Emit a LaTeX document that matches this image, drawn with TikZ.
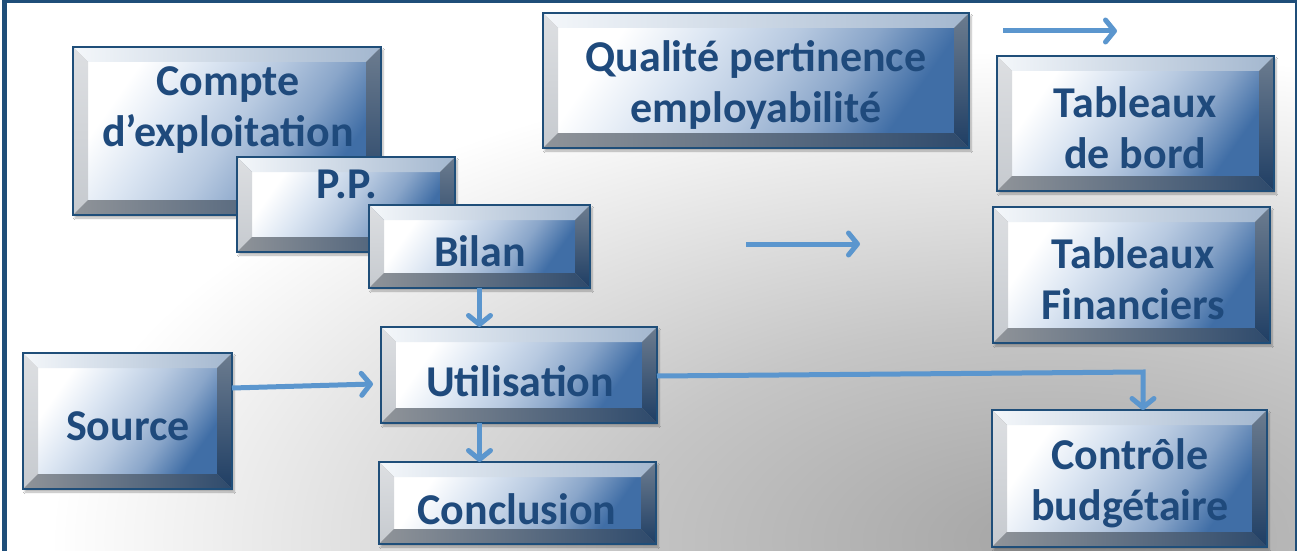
\documentclass[tikz,border=0pt]{standalone}
\usepackage{fontspec}
\setmainfont{Carlito}
\usetikzlibrary{arrows.meta,calc,fit,shadows.blur}
\definecolor{txtc}{HTML}{1F4A7C}
\definecolor{linec}{HTML}{1F4E79}
\definecolor{arrowc}{HTML}{5B96CE}
\definecolor{topL}{HTML}{F4F7FA}
\definecolor{topR}{HTML}{A3B7CF}
\definecolor{leftT}{HTML}{DDDFE2}
\definecolor{leftB}{HTML}{C6CACF}
\definecolor{botL}{HTML}{909499}
\definecolor{botR}{HTML}{2E4A6C}
\definecolor{rightT}{HTML}{6C7C8F}
\definecolor{rightB}{HTML}{1F3E64}
\definecolor{bgA}{HTML}{A4A4A4}
\definecolor{bgB}{HTML}{C6C6C6}
\pgfdeclareradialshading{bgshade}{\pgfpoint{0bp}{0bp}}{color(0bp)=(bgA); color(11bp)=(bgB); color(25bp)=(white); color(50bp)=(white)}
\pgfdeclarehorizontalshading{faceshade}{100bp}{rgb(0bp)=(1,1,1); rgb(25bp)=(1,1,1); rgb(38bp)=(0.86,0.90,0.95); rgb(51bp)=(0.72,0.79,0.88); rgb(63bp)=(0.54,0.65,0.79); rgb(75bp)=(0.25,0.43,0.65); rgb(100bp)=(0.25,0.43,0.65)}
\newcommand\bv{15}
\newcommand\bevbox[5]{%
  \coordinate (#1-nw) at (#2,#3);
  \coordinate (#1-se) at (#4,#5);
  \node[boxnode, fit=(#1-nw)(#1-se)] (#1) {};
  \shade[facegrad] (#2+\bv,#3+\bv) rectangle (#4-\bv,#5-\bv);
  \shade[left color=topL, right color=topR] (#2,#3) -- (#4,#3) -- (#4-\bv,#3+\bv) -- (#2+\bv,#3+\bv) -- cycle;
  \shade[top color=leftT, bottom color=leftB] (#2,#3) -- (#2+\bv,#3+\bv) -- (#2+\bv,#5-\bv) -- (#2,#5) -- cycle;
  \shade[left color=botL, right color=botR] (#2,#5) -- (#2+\bv,#5-\bv) -- (#4-\bv,#5-\bv) -- (#4,#5) -- cycle;
  \shade[top color=rightT, bottom color=rightB] (#4,#3) -- (#4,#5) -- (#4-\bv,#5-\bv) -- (#4-\bv,#3+\bv) -- cycle;
  \draw[boxline] (#1.north west) rectangle (#1.south east);
}
\begin{document}
\begin{tikzpicture}[x=1pt,y=-1pt,
  boxnode/.style={inner sep=0pt, outer sep=0pt, rectangle,
    blur shadow={shadow blur steps=6, shadow xshift=2pt, shadow yshift=-3pt, shadow opacity=30}},
  facegrad/.style={shading=faceshade, shading angle=-35},
  boxline/.style={draw=linec, line width=1.6pt},
  lbl/.style={text=txtc, font=\fontsize{44}{51}\selectfont\bfseries, align=center, inner sep=0pt},
  conn/.style={draw=arrowc, line width=5pt, -{Straight Barb[length=9pt,width=22pt,round]}}]
\useasboundingbox (0,0) rectangle (1299,551);
% background
\fill[white] (0,0) rectangle (1299,551);
\begin{scope}
  \clip (7,3) rectangle (1295,551);
  \shade[shading=bgshade] (1050,540) ellipse [x radius=1000, y radius=490];
\end{scope}
\fill[linec] (2,0) rectangle (7,551);
\fill[linec] (2,0) rectangle (1297,3);
\fill[linec] (1295,0) rectangle (1297,551);
% boxes
\bevbox{compte}{73}{47}{381}{215}
\node[lbl] (compte-t) at (228,110) {Compte\\d’exploitation};
\bevbox{pp}{237}{157}{455}{252}
\node[lbl] (pp-t) at (347,184) {P.P.};
\bevbox{bilan}{369}{205}{590}{288}
\node[lbl] (bilan-t) at (480,251) {Bilan};
\bevbox{util}{381}{327}{657}{423}
\node[lbl] (util-t) at (520,381) {Utilisation};
\bevbox{concl}{379}{462}{656}{544}
\node[lbl] (concl-t) at (517,509) {Conclusion};
\bevbox{source}{23}{353}{232}{489}
\node[lbl] (source-t) at (128,426) {Source};
\bevbox{qual}{543}{13}{969}{148}
\node[lbl] (qual-t) at (756,85) {Qualité pertinence\\employabilité};
\bevbox{tdb}{997}{56}{1274}{191}
\node[lbl] (tdb-t) at (1135,128) {Tableaux\\de bord};
\bevbox{tf}{993}{207}{1270}{343}
\node[lbl] (tf-t) at (1133,279) {Tableaux\\Financiers};
\bevbox{ctrl}{992}{410}{1267}{547}
\node[lbl] (ctrl-t) at (1130,483) {Contrôle\\budgétaire};
% connectors
\coordinate (a1s) at (1003,31);
\coordinate (a1e) at (1117,31);
\coordinate (a2s) at (746,244);
\coordinate (a2e) at (860,244);
\coordinate (cturn) at (1143,372);
\draw[conn] (a1s) -- (a1e);
\draw[conn] (a2s) -- (a2e);
\draw[conn] (bilan.south) -- (bilan.south |- util.north);
\draw[conn] (bilan.south |- util.south) -- (bilan.south |- concl.north);
\draw[conn] ($(source.east)+(0,-33)$) -- ($(util.west)+(-8,9)$);
\draw[conn] ($(util.east)+(0,1)$) -- (cturn) -- (cturn |- ctrl.north);
\end{tikzpicture}
\end{document}
